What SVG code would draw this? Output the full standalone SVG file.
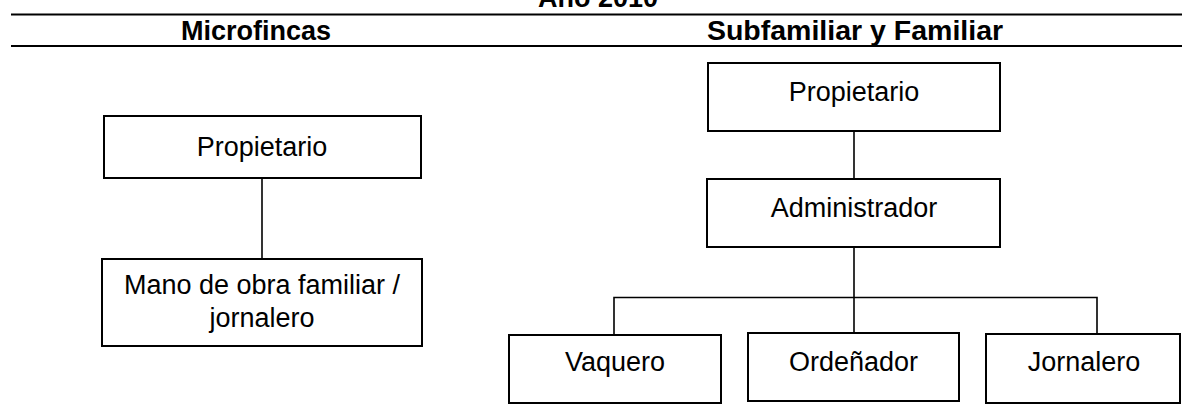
<svg xmlns="http://www.w3.org/2000/svg" width="1182" height="411" viewBox="0 0 1182 411">
<style>
.box{fill:#fff;stroke:#000;stroke-width:2}
.t{font-family:"Liberation Sans",Arial,sans-serif;font-size:27px;fill:#000;text-anchor:middle}
.h{font-family:"Liberation Sans",Arial,sans-serif;font-size:27px;font-weight:bold;fill:#000;text-anchor:middle}
.c{fill:none;stroke:#000;stroke-width:1.6}
.rule{stroke:#000;stroke-width:2.2}
</style>
<rect width="1182" height="411" fill="#fff"/>
<g id="header">
<text class="h" x="598" y="7">Año 2010</text>
<line class="rule" x1="11" y1="14.5" x2="1182" y2="14.5"/>
<text class="h" x="256" y="40">Microfincas</text>
<text class="h" x="855" y="40" style="font-size:28.5px">Subfamiliar y Familiar</text>
<line class="rule" x1="11" y1="46" x2="1182" y2="46"/>
</g>
<g id="connectors">
<line class="c" x1="262" y1="178" x2="262" y2="259"/>
<line class="c" x1="854" y1="131" x2="854" y2="179"/>
<line class="c" x1="854" y1="247" x2="854" y2="333"/>
<polyline class="c" points="614,335 614,297.5 1097,297.5 1097,334"/>
</g>
<g id="n-propietario-micro">
<rect class="box" x="104" y="116" width="317" height="62"/>
<text class="t" x="262" y="156">Propietario</text>
</g>
<g id="n-mano-obra">
<rect class="box" x="102" y="259" width="320" height="87"/>
<text class="t" x="262" y="294">Mano de obra familiar /</text>
<text class="t" x="262" y="327">jornalero</text>
</g>
<g id="n-propietario-fam">
<rect class="box" x="708" y="63" width="292" height="68"/>
<text class="t" x="854" y="101">Propietario</text>
</g>
<g id="n-administrador">
<rect class="box" x="707" y="179" width="293" height="68"/>
<text class="t" x="854" y="217">Administrador</text>
</g>
<g id="n-vaquero">
<rect class="box" x="509" y="335" width="212" height="68"/>
<text class="t" x="615" y="371">Vaquero</text>
</g>
<g id="n-ordenador">
<rect class="box" x="748" y="333" width="211" height="68"/>
<text class="t" x="853.5" y="371">Ordeñador</text>
</g>
<g id="n-jornalero">
<rect class="box" x="986" y="334" width="194" height="69"/>
<text class="t" x="1084" y="371">Jornalero</text>
</g>
</svg>
